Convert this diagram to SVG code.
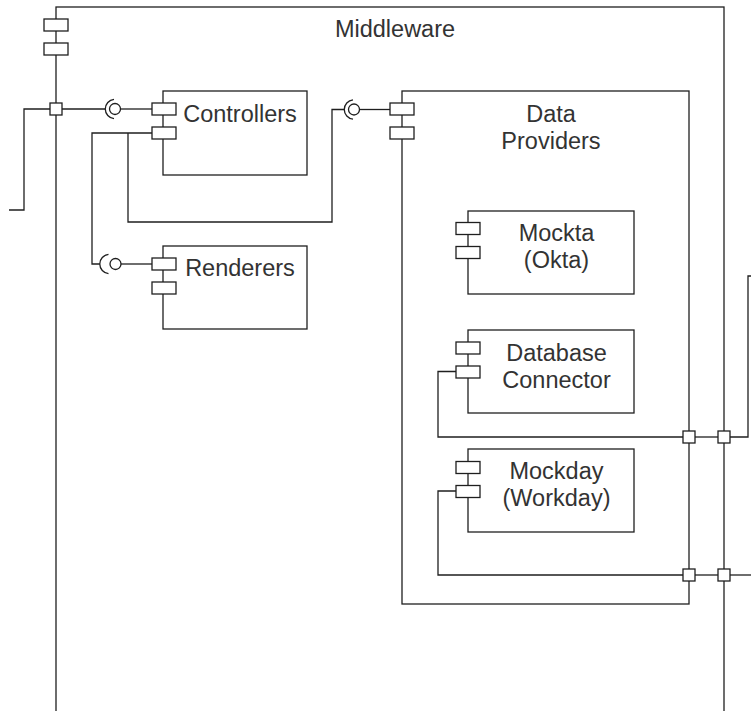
<svg xmlns="http://www.w3.org/2000/svg" width="751" height="711" viewBox="0 0 751 711">
  <style>
    .box { fill: #ffffff; stroke: #1f1f1f; stroke-width: 1.3; }
    .port { fill: #ffffff; stroke: #1f1f1f; stroke-width: 1.3; }
    .wire { fill: none; stroke: #1f1f1f; stroke-width: 1.3; }
    .ball { fill: #ffffff; stroke: #1f1f1f; stroke-width: 1.3; }
    .label { font-family: "Liberation Sans", Arial, sans-serif; font-size: 23.5px; fill: #333333; text-anchor: middle; }
  </style>
  <defs>
    <!-- component icon: two small tabs on the left edge -->
    <g id="tabs">
      <rect class="port" x="0" y="0" width="24" height="12"/>
      <rect class="port" x="0" y="24" width="24" height="12"/>
    </g>
    <!-- boundary port -->
    <rect id="sq" class="port" x="-6" y="-6" width="12" height="12"/>
  </defs>

  <rect width="751" height="711" fill="#ffffff"/>

  <!-- outer container -->
  <g id="middleware">
    <rect class="box" x="56" y="7" width="668" height="760"/>
    <use href="#tabs" x="44" y="19"/>
    <text class="label" x="395" y="37">Middleware</text>
  </g>

  <g id="controllers">
    <rect class="box" x="163" y="91" width="144" height="84"/>
    <use href="#tabs" x="152" y="103"/>
    <text class="label" x="240" y="121.5">Controllers</text>
  </g>

  <g id="renderers">
    <rect class="box" x="163" y="246" width="144" height="83"/>
    <use href="#tabs" x="152" y="258"/>
    <text class="label" x="240" y="276">Renderers</text>
  </g>

  <g id="data-providers">
    <rect class="box" x="402" y="91" width="287" height="513"/>
    <use href="#tabs" x="390" y="103"/>
    <text class="label" x="551" y="121.5">Data</text>
    <text class="label" x="551" y="149">Providers</text>
  </g>

  <g id="mockta">
    <rect class="box" x="468" y="211" width="166" height="83"/>
    <use href="#tabs" x="456" y="222.5"/>
    <text class="label" x="556.5" y="240.5">Mockta</text>
    <text class="label" x="556.5" y="268">(Okta)</text>
  </g>

  <g id="database-connector">
    <rect class="box" x="468" y="330" width="166" height="83"/>
    <use href="#tabs" x="456" y="342"/>
    <text class="label" x="556.5" y="360.5">Database</text>
    <text class="label" x="556.5" y="388">Connector</text>
  </g>

  <g id="mockday">
    <rect class="box" x="468" y="449" width="166" height="83"/>
    <use href="#tabs" x="456" y="461.5"/>
    <text class="label" x="556.5" y="478.5">Mockday</text>
    <text class="label" x="556.5" y="506">(Workday)</text>
  </g>

  <g id="connectors">
    <!-- external link into middleware port -->
    <path class="wire" d="M 50,109 H 24 V 210 H 9"/>

    <!-- middleware port to controllers (socket + ball) -->
    <path class="wire" d="M 62,109 H 105.3"/>
    <path class="wire" d="M 114,99.35 A 9.7 9.7 0 0 0 114,118.65"/>
    <circle class="ball" cx="115" cy="109" r="5.5"/>
    <path class="wire" d="M 120.5,109 H 152"/>

    <!-- controllers to renderers -->
    <path class="wire" d="M 152,133 H 92 V 264 H 99.8"/>
    <path class="wire" d="M 108.5,254.35 A 9.7 9.7 0 0 0 108.5,273.65"/>
    <circle class="ball" cx="115.5" cy="264" r="5.5"/>
    <path class="wire" d="M 121,264 H 152"/>

    <!-- controllers to data providers -->
    <path class="wire" d="M 128,133 V 222 H 332 V 109.5 H 344.3"/>
    <path class="wire" d="M 353,99.85 A 9.7 9.7 0 0 0 353,119.15"/>
    <circle class="ball" cx="354" cy="109.5" r="5.5"/>
    <path class="wire" d="M 359.5,109.5 H 390"/>

    <!-- database connector out through both boundaries -->
    <path class="wire" d="M 456,371.5 H 438 V 437 H 683"/>
    <path class="wire" d="M 695,437 H 718"/>
    <path class="wire" d="M 730,437 H 748 V 276 H 752"/>
    <use href="#sq" x="689" y="437"/>
    <use href="#sq" x="724" y="437"/>

    <!-- mockday out through both boundaries -->
    <path class="wire" d="M 456,491 H 438 V 575 H 683"/>
    <path class="wire" d="M 695,575 H 718"/>
    <path class="wire" d="M 730,575 H 752"/>
    <use href="#sq" x="689" y="575"/>
    <use href="#sq" x="724" y="575"/>

    <!-- middleware boundary port -->
    <use href="#sq" x="56" y="109"/>
  </g>
</svg>
